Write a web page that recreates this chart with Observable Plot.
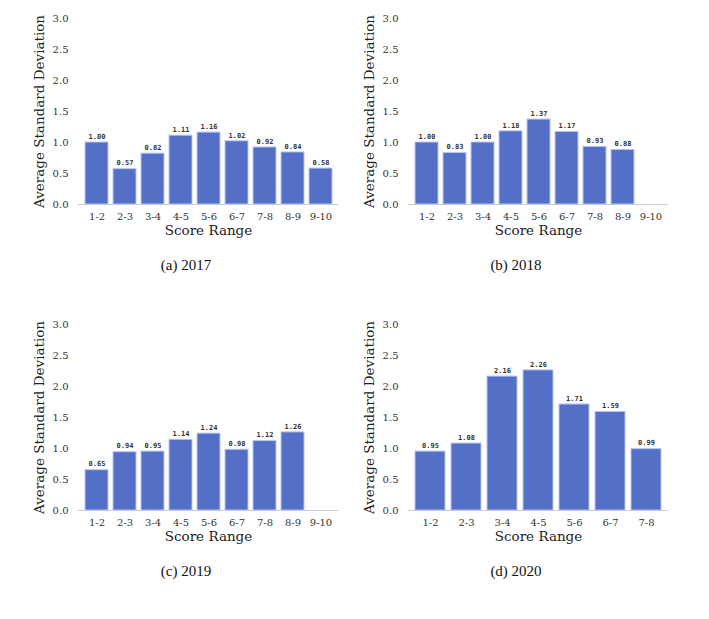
<!DOCTYPE html>
<html>
<head>
<meta charset="utf-8">
<script src="https://cdn.jsdelivr.net/npm/d3@7"></script>
<script src="https://cdn.jsdelivr.net/npm/@observablehq/plot@0.6"></script>
<style>
  html, body { margin: 0; padding: 0; background: #fff; }
  #root { position: relative; width: 709px; height: 619px; overflow: hidden; }
  .panel { position: absolute; }
  .cap { position: absolute; font-family: "Liberation Serif", serif; font-size: 15px; color: #111; text-align: center; width: 200px; }
</style>
</head>
<body>
<div id="root"></div>
<script>
const ranges9 = ["1-2","2-3","3-4","4-5","5-6","6-7","7-8","8-9","9-10"];
const ranges7 = ["1-2","2-3","3-4","4-5","5-6","6-7","7-8"];
const yTicks = [0, 0.5, 1.0, 1.5, 2.0, 2.5, 3.0];

const cats2017 = ["1-2","2-3","3-4","4-5","5-6","6-7","7-8","8-9","9-10"];
const vals2017 = [1.00, 0.57, 0.82, 1.11, 1.16, 1.02, 0.92, 0.84, 0.58];

const cats2018 = ["1-2","2-3","3-4","4-5","5-6","6-7","7-8","8-9"];
const vals2018 = [1.00, 0.83, 1.00, 1.18, 1.37, 1.17, 0.93, 0.88];

const cats2019 = ["1-2","2-3","3-4","4-5","5-6","6-7","7-8","8-9"];
const vals2019 = [0.65, 0.94, 0.95, 1.14, 1.24, 0.98, 1.12, 1.26];

const cats2020 = ["1-2","2-3","3-4","4-5","5-6","6-7","7-8"];
const vals2020 = [0.95, 1.08, 2.16, 2.26, 1.71, 1.59, 0.99];

const panels = [
  {cats: cats2017, vals: vals2017, domain: ranges9, left: 0, top: 0, caption: "(a) 2017"},
  {cats: cats2018, vals: vals2018, domain: ranges9, left: 330, top: 0, caption: "(b) 2018"},
  {cats: cats2019, vals: vals2019, domain: ranges9, left: 0, top: 306, caption: "(c) 2019"},
  {cats: cats2020, vals: vals2020, domain: ranges7, left: 330, top: 306, caption: "(d) 2020"}
];

const root = document.getElementById("root");
for (const p of panels) {
  const data = p.cats.map((c, i) => ({range: c, value: p.vals[i]}));
  const chart = Plot.plot({
    width: 345,
    height: 250,
    marginTop: 18,
    marginBottom: 46,
    marginLeft: 78,
    marginRight: 7,
    style: {fontFamily: "DejaVu Serif", fontSize: "10px", color: "#333", background: "transparent"},
    x: {domain: p.domain, padding: 0.18, label: null},
    y: {domain: [0, 3], label: null},
    marks: [
      Plot.gridY(yTicks, {stroke: "#e8e8e8", strokeOpacity: 1, x1: 0, x2: 1}),
      Plot.ruleY([0], {stroke: "#cccccc"}),
      Plot.barY(data, {x: "range", y: "value", fill: "#5470c6", stroke: "#b9c5ef", strokeWidth: 1}),
      Plot.text(data, {x: "range", y: "value", text: d => d.value.toFixed(2), dy: -6, fontSize: 7, fontFamily: "DejaVu Sans Mono", fontWeight: "bold", fill: "#333"}),
      Plot.axisY(yTicks, {tickSize: 0, tickPadding: 10, tickFormat: d3.format(".1f"), label: "Average Standard Deviation", labelAnchor: "center", labelArrow: "none", labelOffset: 44, fontSize: 10, fontFamily: "DejaVu Serif"}),
      Plot.axisX({tickSize: 0, tickPadding: 8, label: "Score Range", labelAnchor: "center", labelArrow: "none", labelOffset: 30, fontSize: 10, fontFamily: "DejaVu Serif"})
    ]
  });
  chart.classList.add("panel");
  chart.style.left = p.left + "px";
  chart.style.top = p.top + "px";
  chart.querySelectorAll("text").forEach(t => { if (!t.closest("[aria-label='text']")) t.setAttribute("font-family", "DejaVu Serif"); });
  chart.querySelectorAll("[aria-label='y-axis label'] text, [aria-label='x-axis label'] text").forEach(t => { t.style.fontSize = "13.5px"; t.setAttribute("fill", "#222"); });
  root.appendChild(chart);
  const cap = document.createElement("div");
  cap.className = "cap";
  cap.textContent = p.caption;
  cap.style.left = (p.left + 186 - 100) + "px";
  cap.style.top = (p.top + 257) + "px";
  root.appendChild(cap);
}
</script>
</body>
</html>
